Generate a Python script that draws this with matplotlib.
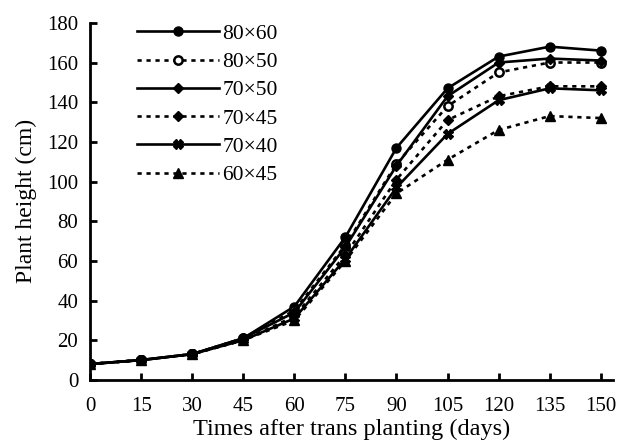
import matplotlib.pyplot as plt

# days after transplanting and plant height (cm) for each spacing
days = [0, 15, 30, 45, 60, 75, 90, 105, 120, 135, 150]
h_80x60 = [8, 10, 13, 21, 37, 72, 117, 147, 163, 168, 166]
h_80x50 = [8, 10, 13, 21, 35, 68, 109, 138, 155, 160, 160]
h_70x50 = [8, 10, 13, 21, 34, 67, 108, 143, 160, 162, 161]
h_70x45 = [8, 10, 13, 20, 32, 63, 101, 131, 143, 148, 148]
h_70x40 = [8, 10, 13, 20, 31, 61, 97, 124, 141, 147, 146]
h_60x45 = [8, 10, 13, 20, 30, 60, 94, 111, 126, 133, 132]
labels = ["80×60", "80×50", "70×50", "70×45", "70×40", "60×45"]

plt.rcParams['font.family'] = ['Liberation Serif', 'DejaVu Serif']

fig = plt.figure(figsize=(6.17, 4.48), dpi=100)
ax = fig.add_axes([0.146, 0.152, 0.847, 0.797])

solid = '-'
dotted = (0, (1.6, 1.8))
lw = 1.9
ax.plot(days, h_80x60, color='black', ls=solid, lw=lw, marker='o', ms=6.5, label=labels[0])
ax.plot(days, h_80x50, color='black', ls=dotted, lw=lw, marker='o', ms=6, mfc='white', mew=1.8, label=labels[1])
ax.plot(days, h_70x50, color='black', ls=solid, lw=lw, marker='D', ms=5.5, label=labels[2])
ax.plot(days, h_70x45, color='black', ls=dotted, lw=lw, marker='D', ms=5.5, label=labels[3])
ax.plot(days, h_70x40, color='black', ls=solid, lw=lw, marker='X', ms=6.5, label=labels[4])
ax.plot(days, h_60x45, color='black', ls=dotted, lw=lw, marker='^', ms=6.5, label=labels[5])

ax.set_xlim(0, 153.5)
ax.set_ylim(0, 180)
ax.set_xticks(days)
ax.set_yticks(range(0, 181, 20))
ax.spines['top'].set_visible(False)
ax.spines['right'].set_visible(False)
for s in ['left', 'bottom']:
    ax.spines[s].set_linewidth(2)
ax.tick_params(direction='in', length=5, width=2, labelsize=15)
ax.tick_params(axis='x', pad=12)
ax.tick_params(axis='y', pad=8.5)
ax.set_xlabel("Times after trans planting (days)", fontsize=17.5, labelpad=2)
ax.set_ylabel("Plant height (cm)", fontsize=17, labelpad=7.5)

ax.legend(loc='upper left', bbox_to_anchor=(0.09, 0.997), frameon=False,
          fontsize=15.5, handlelength=3.8, handletextpad=0.15, labelspacing=0.38,
          borderaxespad=0, borderpad=0)

fig.savefig("out.png", dpi=100)
